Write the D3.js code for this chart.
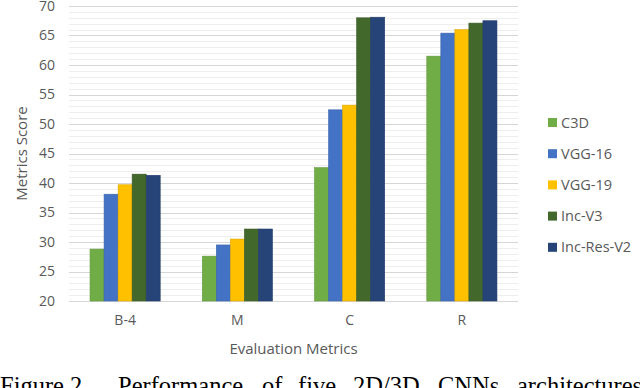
<!DOCTYPE html>
<html lang="en">
<head>
<meta charset="UTF-8">
<title>Metrics Score by architecture</title>
<script src="https://d3js.org/d3.v7.min.js"></script>
<style>
    body { margin: 0; background: #fff; }
    svg text { font-family: "Open Sans", "DejaVu Sans", sans-serif; }
</style>
</head>
<body>
<svg id="chart" width="640" height="388"></svg>
<script>
    // chart data
    const categories = ["B-4", "M", "C", "R"];
    const seriesNames = ["C3D", "VGG-16", "VGG-19", "Inc-V3", "Inc-Res-V2"];
    const seriesColors = ["#70ad47", "#4472c4", "#ffc000", "#43682b", "#264478"];
    const c3d      = [28.8, 27.6, 42.6, 61.5];
    const vgg16    = [38.1, 29.5, 52.4, 65.4];
    const vgg19    = [39.7, 30.5, 53.2, 66.0];
    const incV3    = [41.5, 32.2, 68.0, 67.1];
    const incResV2 = [41.3, 32.2, 68.1, 67.5];
    const yTicks = [20, 25, 30, 35, 40, 45, 50, 55, 60, 65, 70];
    const captionWords = ["Figure", "2.", "Performance", "of", "five", "2D/3D", "CNNs", "architectures"];

    const seriesValues = [c3d, vgg16, vgg19, incV3, incResV2];

    const svg = d3.select("#chart");
    const margin = {top: 6, left: 69, right: 122, bottom: 87};
    const W = 640, H = 388;

    const x = d3.scaleBand()
        .domain(categories)
        .range([margin.left, W - margin.right])
        .paddingInner(0.375)
        .paddingOuter(0.1875);

    const xs = d3.scaleBand()
        .domain(seriesNames)
        .range([0, x.bandwidth()]);

    const y = d3.scaleLinear()
        .domain([20, 70])
        .range([H - margin.bottom, margin.top]);

    // minor gridlines
    svg.append("g")
        .selectAll("line")
        .data(d3.range(21, 70).filter(v => v % 5 !== 0))
        .join("line")
        .attr("x1", margin.left)
        .attr("x2", W - margin.right)
        .attr("y1", d => Math.round(y(d)) + 0.5)
        .attr("y2", d => Math.round(y(d)) + 0.5)
        .attr("stroke", "#eeeeee")
        .attr("stroke-width", 1);

    // major gridlines
    svg.append("g")
        .selectAll("line")
        .data(yTicks)
        .join("line")
        .attr("x1", margin.left)
        .attr("x2", W - margin.right)
        .attr("y1", d => Math.round(y(d)) + 0.5)
        .attr("y2", d => Math.round(y(d)) + 0.5)
        .attr("stroke", "#d6d6d6")
        .attr("stroke-width", 1.2);

    // y axis labels
    const yAxis = svg.append("g")
        .attr("transform", `translate(${margin.left - 14},0)`)
        .call(d3.axisLeft(y).tickValues(yTicks).tickSize(0).tickPadding(0));
    yAxis.select(".domain").remove();
    yAxis.selectAll("text")
        .attr("fill", "#595959")
        .style("font-size", "14px");

    // bars
    const groups = svg.append("g")
        .selectAll("g")
        .data(seriesNames)
        .join("g")
        .attr("fill", (d, i) => seriesColors[i]);

    groups.selectAll("rect")
        .data((s, i) => categories.map((c, j) => ({c, s, v: seriesValues[i][j]})))
        .join("rect")
        .attr("x", d => x(d.c) + xs(d.s))
        .attr("width", xs.bandwidth())
        .attr("y", d => y(d.v))
        .attr("height", d => y(20) - y(d.v))
        .attr("stroke", (d, i, n) => d3.color(d3.select(n[i].parentNode).attr("fill")).darker(0.4))
        .attr("stroke-width", 0.6);

    // x axis labels
    const xAxis = svg.append("g")
        .attr("transform", `translate(0,${y(20) + 14})`)
        .call(d3.axisBottom(x).tickSize(0).tickPadding(0));
    xAxis.select(".domain").remove();
    xAxis.selectAll("text")
        .attr("fill", "#595959")
        .style("font-size", "14px");

    // axis titles
    svg.append("text")
        .attr("x", (margin.left + W - margin.right) / 2)
        .attr("y", 354)
        .attr("text-anchor", "middle")
        .attr("fill", "#595959")
        .style("font-size", "15px")
        .text("Evaluation Metrics");

    svg.append("text")
        .attr("transform", `translate(27,${y(45)}) rotate(-90)`)
        .attr("text-anchor", "middle")
        .attr("fill", "#595959")
        .style("font-size", "15px")
        .text("Metrics Score");

    // legend
    const legend = svg.append("g")
        .attr("transform", "translate(548,0)")
        .selectAll("g")
        .data(seriesNames)
        .join("g")
        .attr("transform", (d, i) => `translate(0,${122 + i * 31.2})`);

    legend.append("rect")
        .attr("x", 0)
        .attr("y", -4)
        .attr("width", 9)
        .attr("height", 9)
        .attr("fill", (d, i) => seriesColors[i]);

    legend.append("text")
        .attr("x", 13)
        .attr("y", 5.5)
        .attr("fill", "#595959")
        .style("font-size", "14.5px")
        .text(d => d);

    // caption (justified across the width, cut by the bottom edge)
    const captionX = [0, 70, 118, 262, 298, 353, 438, 517];
    svg.append("g")
        .selectAll("text")
        .data(captionWords)
        .join("text")
        .attr("x", (d, i) => captionX[i])
        .attr("y", 394)
        .attr("fill", "#000")
        .style("font-family", "'Liberation Serif', 'DejaVu Serif', serif")
        .style("font-size", "24.5px")
        .text(d => d);
</script>
</body>
</html>
